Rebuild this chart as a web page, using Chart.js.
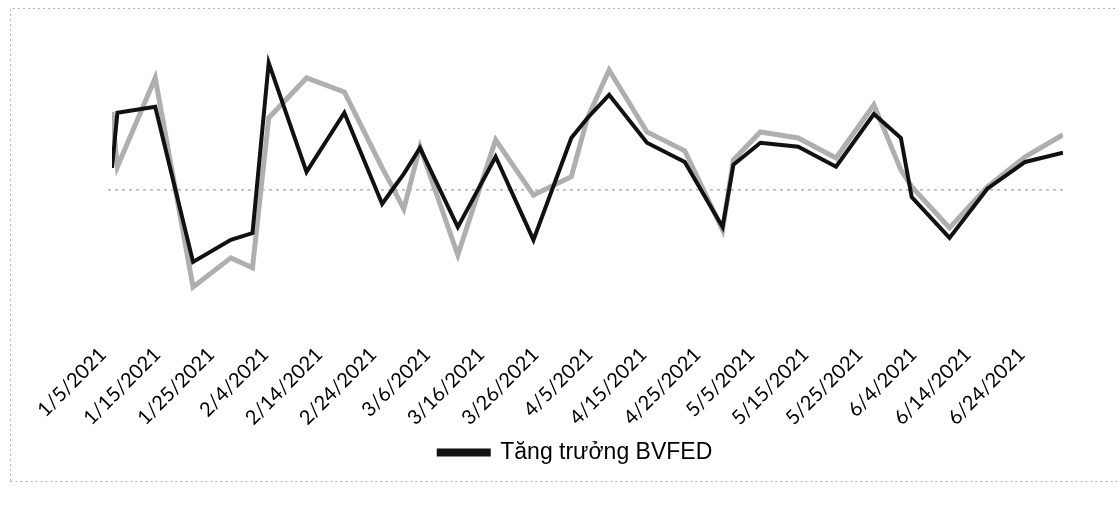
<!DOCTYPE html>
<html>
<head>
<meta charset="utf-8">
<script src="https://cdn.jsdelivr.net/npm/chart.js@4.4.0/dist/chart.umd.min.js"></script>
<style>
    body { margin: 0; background: #fff; }
    #wrap { width: 1120px; height: 512px; position: relative; }
</style>
</head>
<body>
<div id="wrap"><canvas id="growthChart"></canvas></div>
<script>
const dates = [
    '1/5/2021', '1/6/2021', '1/13/2021', '1/20/2021', '1/27/2021', '1/31/2021',
    '2/3/2021', '2/10/2021', '2/17/2021', '2/24/2021', '2/26/2021', '2/28/2021',
    '3/3/2021', '3/10/2021', '3/17/2021', '3/24/2021', '3/31/2021', '4/3/2021',
    '4/7/2021', '4/14/2021', '4/21/2021', '4/28/2021', '4/30/2021', '5/5/2021',
    '5/12/2021', '5/19/2021', '5/26/2021', '5/31/2021', '6/2/2021', '6/9/2021',
    '6/16/2021', '6/23/2021', '6/30/2021'
];

// Tăng trưởng BVFED (black)
const bvfed = [
    0.55, 1.93, 2.08, -1.80, -1.25, -1.08,
    3.18, 0.45, 1.93, -0.35, 0.03, 0.40,
    1.05, -0.93, 0.83, -1.25, 1.30, 1.80,
    2.38, 1.18, 0.70, -0.93, 0.63, 1.18,
    1.08, 0.58, 1.90, 1.30, -0.18, -1.20,
    0.03, 0.70, 0.93
];

// second series (grey), no legend entry in the original
const benchmark = [
    1.95, 0.58, 2.80, -2.43, -1.70, -1.95,
    1.80, 2.80, 2.45, 0.55, 0.05, -0.48,
    1.08, -1.63, 1.25, -0.13, 0.33, 1.80,
    3.00, 1.45, 0.98, -1.00, 0.75, 1.45,
    1.30, 0.80, 2.13, 0.50, 0.08, -0.95,
    0.08, 0.83, 1.38
];

const tickLabels = [
    '1/5/2021', '1/15/2021', '1/25/2021', '2/4/2021', '2/14/2021', '2/24/2021',
    '3/6/2021', '3/16/2021', '3/26/2021', '4/5/2021', '4/15/2021', '4/25/2021',
    '5/5/2021', '5/15/2021', '5/25/2021', '6/4/2021', '6/14/2021', '6/24/2021'
];

const start = Date.UTC(2021, 0, 5);

function dayOf(s) {
    const [m, d, y] = s.split('/').map(Number);
    return Math.round((Date.UTC(y, m - 1, d) - start) / 86400000);
}

const days = dates.map(dayOf);
const tickDays = tickLabels.map(dayOf);

const decorations = {
    id: 'decorations',
    afterLayout(chart) {
        // legend sits a little left of centre in the original
        chart.legend.left -= 12;
        chart.legend.right -= 12;
    },
    beforeDatasetsDraw(chart) {
        const { ctx, chartArea, scales } = chart;
        const y0 = scales.y.getPixelForValue(0);
        ctx.save();
        ctx.strokeStyle = '#8c8c8c';
        ctx.lineWidth = 1;
        ctx.setLineDash([3, 4]);
        ctx.beginPath();
        ctx.moveTo(chartArea.left - 4, y0);
        ctx.lineTo(chartArea.right, y0);
        ctx.stroke();
        ctx.restore();
    },
    afterDraw(chart) {
        const ctx = chart.ctx;
        ctx.save();
        ctx.strokeStyle = '#b5b5b5';
        ctx.lineWidth = 1;
        ctx.setLineDash([2, 3]);
        ctx.beginPath();
        ctx.moveTo(10.5, 481);
        ctx.lineTo(10.5, 8.5);
        ctx.lineTo(1118, 8.5);
        ctx.moveTo(10.5, 481.5);
        ctx.lineTo(1118, 481.5);
        ctx.stroke();
        ctx.restore();
    }
};

new Chart(document.getElementById('growthChart'), {
    type: 'line',
    data: {
        datasets: [{
            label: 'Tăng trưởng BVFED',
            data: days.map((d, i) => ({ x: d, y: bvfed[i] })),
            borderColor: '#111111',
            backgroundColor: '#111111',
            borderWidth: 4,
            pointRadius: 0,
            tension: 0
        }, {
            label: 'benchmark',
            data: days.map((d, i) => ({ x: d, y: benchmark[i] })),
            borderColor: '#afafaf',
            backgroundColor: '#afafaf',
            borderWidth: 5,
            pointRadius: 0,
            tension: 0
        }]
    },
    options: {
        responsive: true,
        maintainAspectRatio: false,
        animation: false,
        layout: { padding: { left: 112, right: 57, top: 50, bottom: 38 } },
        plugins: {
            tooltip: { enabled: false },
            legend: {
                position: 'bottom',
                labels: {
                    filter: item => item.datasetIndex === 0,
                    boxWidth: 50,
                    boxHeight: 4,
                    color: '#000',
                    padding: 2,
                    font: { family: 'Liberation Sans', size: 23 }
                }
            }
        },
        scales: {
            x: {
                type: 'linear',
                min: 0,
                max: 176,
                afterBuildTicks: scale => {
                    scale.ticks = tickDays.map(v => ({ value: v }));
                },
                ticks: {
                    autoSkip: false,
                    minRotation: 45,
                    maxRotation: 45,
                    padding: 9,
                    labelOffset: -9,
                    color: '#000',
                    font: { family: 'Lato', size: 20 },
                    callback: (value, index) => tickLabels[index]
                },
                grid: { display: false, drawTicks: false },
                border: { display: false }
            },
            y: {
                display: false,
                min: -3.6,
                max: 3.5
            }
        }
    },
    plugins: [decorations]
});
</script>
</body>
</html>
